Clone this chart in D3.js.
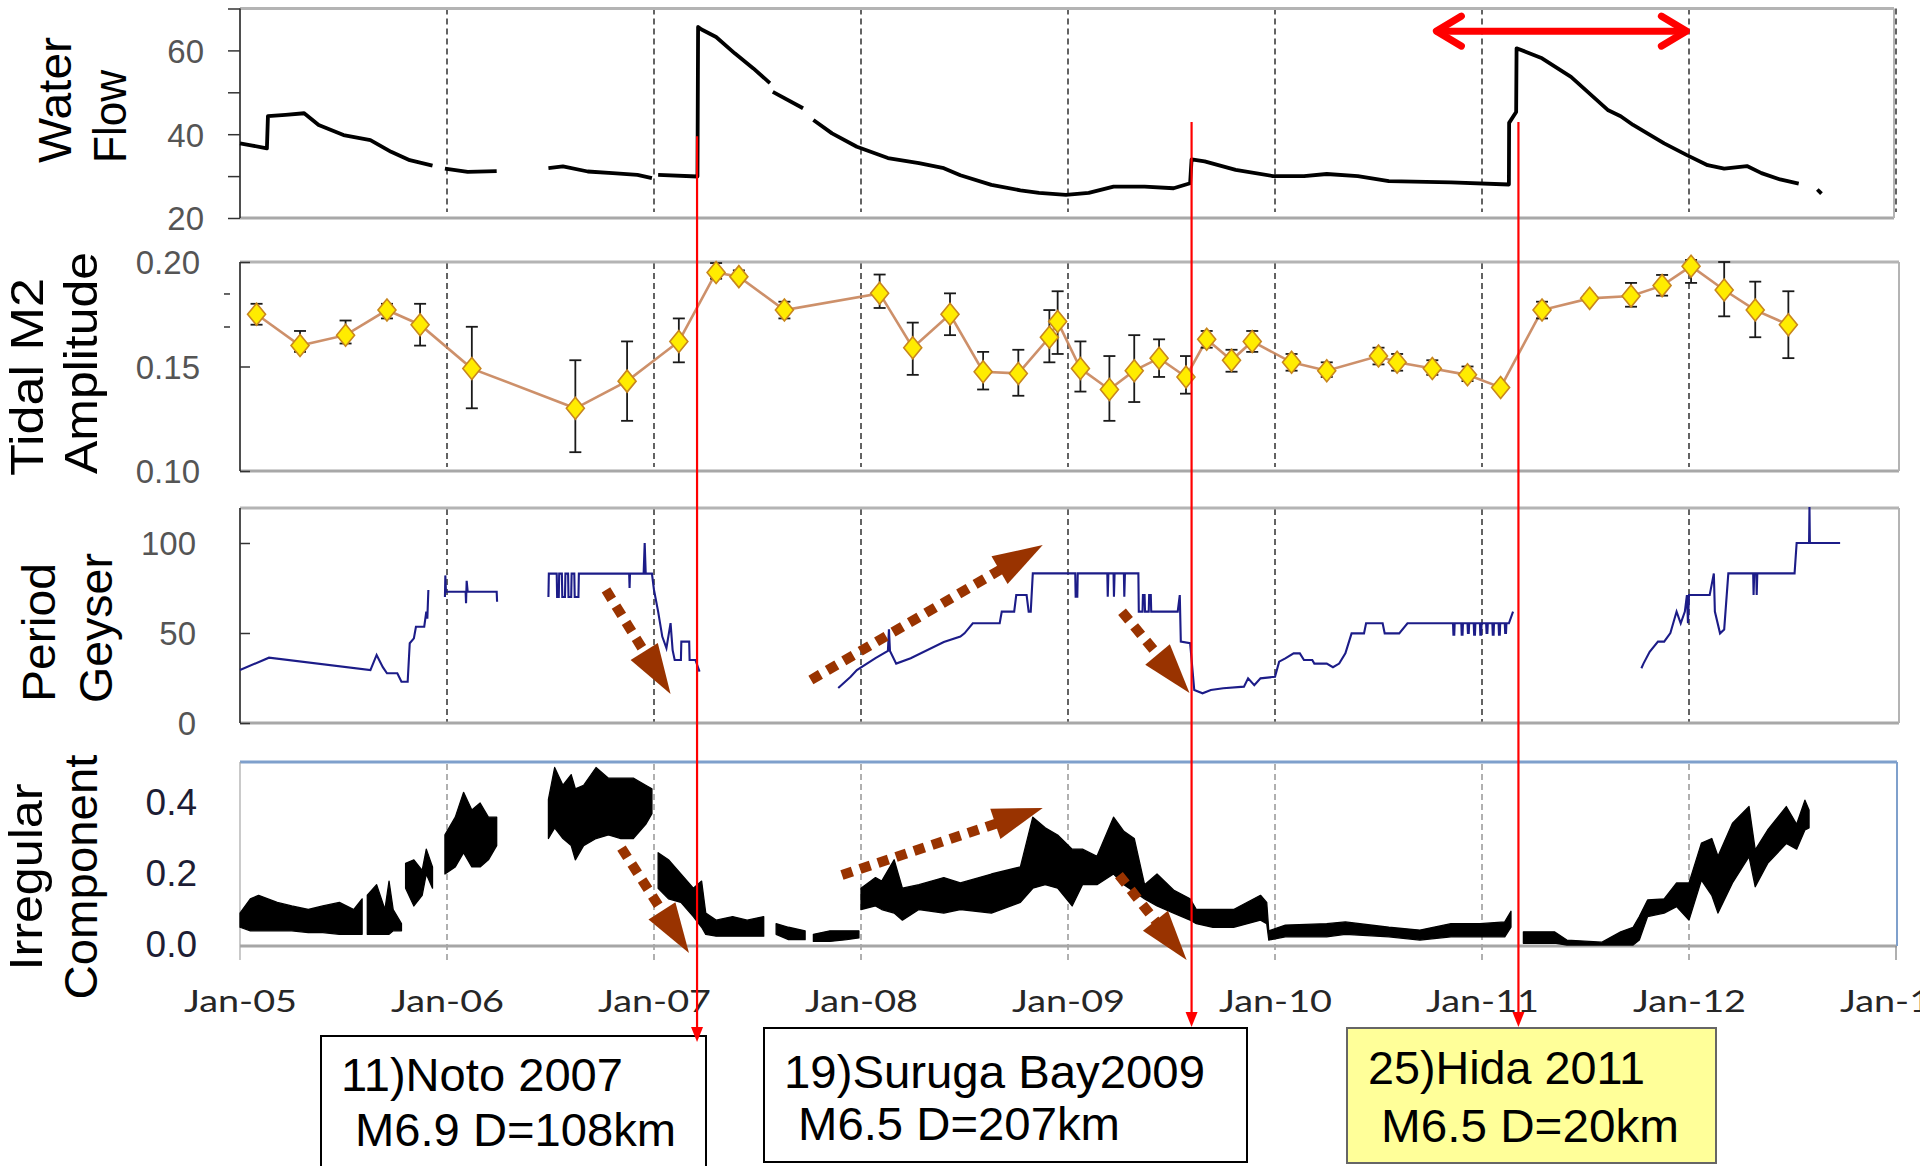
<!DOCTYPE html>
<html><head><meta charset="utf-8">
<script src="https://cdn.jsdelivr.net/npm/d3@7"></script>
<style>body{margin:0;background:#fff;overflow:hidden}svg{display:block}</style>
</head><body>
<svg id="c" width="1920" height="1166"></svg>
<script>
// ---------------- DATA ----------------
const years = [2005, 2006, 2007, 2008, 2009, 2010, 2011, 2012, 2013];
const yearLabels = ["Jan-05", "Jan-06", "Jan-07", "Jan-08", "Jan-09", "Jan-10", "Jan-11", "Jan-12", "Jan-13"];

// Water flow segments [decimal year, flow]
const flowA = [[2005.00,37.8],[2005.06,37.3],[2005.13,36.6],[2005.135,44.3],[2005.22,44.6],[2005.31,45.0],[2005.38,42.2],[2005.50,39.8],[2005.63,38.6],[2005.73,35.8],[2005.82,33.8],[2005.93,32.5]];
const flowB = [[2005.99,31.8],[2006.10,31.0],[2006.24,31.2]];
const flowC = [[2006.49,31.9],[2006.56,32.3],[2006.68,31.1],[2006.80,30.7],[2006.92,30.3],[2006.99,29.5]];
const flowD = [[2007.02,30.3],[2007.21,29.9],[2007.213,65.6],[2007.23,65.0],[2007.30,63.2],[2007.39,59.3],[2007.48,55.7],[2007.56,52.2]];
const flowE = [[2007.574,50.1],[2007.72,46.2]];
const flowF = [[2007.77,43.4],[2007.86,40.2],[2007.98,37.0],[2008.13,34.3],[2008.28,33.1],[2008.40,31.9],[2008.48,30.2],[2008.63,27.9],[2008.77,26.6],[2008.86,26.0],[2008.99,25.5],[2009.10,26.0],[2009.22,27.5],[2009.37,27.5],[2009.51,27.1],[2009.59,28.3],[2009.597,34.0],[2009.66,33.5],[2009.81,31.5],[2009.99,30.0],[2010.14,30.0],[2010.25,30.5],[2010.40,30.0],[2010.55,28.8],[2010.85,28.5],[2011.13,28.0],[2011.131,42.7],[2011.165,45.3],[2011.167,60.5],[2011.21,59.7],[2011.29,58.1],[2011.43,53.7],[2011.61,45.7],[2011.67,44.3],[2011.73,42.2],[2011.88,37.8],[2011.99,35.0],[2012.09,32.6],[2012.17,31.8],[2012.28,32.4],[2012.35,30.7],[2012.44,29.2],[2012.53,28.2]];
const flowG = [[2012.62,26.8],[2012.64,25.8]];

// Tidal M2 amplitude
const tideDates = [2005.08,2005.29,2005.51,2005.71,2005.87,2006.12,2006.62,2006.87,2007.12,2007.30,2007.41,2007.63,2008.09,2008.25,2008.43,2008.59,2008.76,2008.91,2008.95,2009.06,2009.20,2009.32,2009.44,2009.57,2009.67,2009.79,2009.89,2010.08,2010.25,2010.50,2010.59,2010.76,2010.93,2011.09,2011.29,2011.52,2011.72,2011.87,2012.01,2012.17,2012.32,2012.48];
const tideValues = [.175,.160,.165,.177,.170,.149,.130,.143,.162,.195,.193,.177,.185,.159,.175,.1475,.1467,.164,.1715,.149,.139,.148,.154,.145,.163,.153,.162,.152,.148,.155,.152,.149,.146,.140,.177,.1826,.1837,.1887,.198,.1866,.177,.170];
const tideLow = [.170,.157,.161,.173,.160,.130,.109,.124,.152,.192,.191,.173,.178,.146,.165,.139,.136,.152,.156,.138,.124,.133,.145,.137,.159,.1475,.157,.148,.145,.151,.148,.146,.143,.140,.173,.181,.1786,.1839,.190,.174,.164,.154];
const tideHigh = [.180,.167,.172,.180,.180,.169,.153,.162,.173,.1995,.196,.181,.194,.171,.185,.157,.158,.177,.186,.162,.155,.165,.163,.155,.167,.158,.167,.156,.152,.159,.156,.153,.150,.140,.181,.1845,.190,.1938,.201,.200,.1906,.186];
const tideStray = [0.1847, 0.1689];

// Period of geyser segments [decimal year, period]
const geyA = [[2005.00,29.4],[2005.14,36.3],[2005.63,29.4],[2005.66,37.8],[2005.69,31],[2005.71,27.6],[2005.76,27.6],[2005.78,22.9],[2005.81,22.9],[2005.82,44.3],[2005.84,47],[2005.85,53.5],[2005.89,53.5],[2005.90,61.9],[2005.905,58],[2005.91,73.9]];
const geyB = [[2005.99,70],[2005.992,82],[2005.995,72.9],[2006.09,72.9],[2006.092,66.5],[2006.095,79],[2006.10,72.9],[2006.24,72.9],[2006.242,67.4]];
const geyC = [[2006.49,70],[2006.492,83],[2006.53,83],[2006.532,70],[2006.54,70],[2006.542,83],[2006.555,83],[2006.557,70],[2006.57,70],[2006.572,83],[2006.585,83],[2006.587,70],[2006.60,70],[2006.602,83],[2006.615,83],[2006.617,70],[2006.635,70],[2006.637,83],[2006.88,83],[2006.882,75],[2006.884,83],[2006.95,83],[2006.955,100],[2006.96,83],[2006.99,83],[2007.00,73.9],[2007.02,61.9],[2007.04,48],[2007.06,41.6],[2007.08,55.5],[2007.09,40.5],[2007.10,35],[2007.13,35],[2007.132,45.2],[2007.17,45.2],[2007.172,35],[2007.20,35],[2007.22,28.5]];
const geyD = [[2007.89,19.4],[2007.95,25.7],[2007.98,29.4],[2008.07,36],[2008.13,40],[2008.135,52],[2008.14,40],[2008.17,33],[2008.24,36],[2008.40,45],[2008.48,48],[2008.50,49.8],[2008.54,55.4],[2008.67,55.4],[2008.68,61.9],[2008.74,61.9],[2008.75,71.1],[2008.80,71.1],[2008.81,61.9],[2008.82,61.9],[2008.83,83.1],[2009.035,83.1],[2009.037,70.2],[2009.045,70.2],[2009.047,83.1],[2009.19,83.1],[2009.192,70.2],[2009.195,83.1],[2009.22,83.1],[2009.222,70.2],[2009.225,83.1],[2009.27,83.1],[2009.272,70.2],[2009.275,83.1],[2009.34,83.1],[2009.342,61.9],[2009.36,61.9],[2009.362,71.1],[2009.37,71.1],[2009.372,61.9],[2009.39,61.9],[2009.392,71.1],[2009.40,71.1],[2009.402,61.9],[2009.53,61.9],[2009.54,71.1],[2009.545,45.2],[2009.59,44.3],[2009.61,18.3],[2009.65,16.5],[2009.69,18.3],[2009.75,19.3],[2009.85,20.2],[2009.87,24.8],[2009.90,21],[2009.93,24.8],[2010.00,25.7],[2010.02,34.1],[2010.05,35.9],[2010.09,38.7],[2010.12,38.7],[2010.14,35],[2010.18,35],[2010.19,33],[2010.25,33],[2010.28,31],[2010.31,33],[2010.34,38.7],[2010.37,49.8],[2010.43,49.8],[2010.44,55.4],[2010.52,55.4],[2010.53,49.8],[2010.60,49.8],[2010.64,55.4],[2010.86,55.4],[2010.862,49],[2010.866,49],[2010.868,55.4],[2010.90,55.4],[2010.902,49],[2010.906,49],[2010.908,55.4],[2010.93,55.4],[2010.932,50],[2010.936,50],[2010.938,55.4],[2010.96,55.4],[2010.962,49],[2010.966,49],[2010.968,55.4],[2010.99,55.4],[2010.992,49],[2010.996,49],[2010.998,55.4],[2011.02,55.4],[2011.022,50],[2011.026,50],[2011.028,55.4],[2011.05,55.4],[2011.052,49],[2011.056,49],[2011.058,55.4],[2011.08,55.4],[2011.082,49],[2011.086,49],[2011.088,55.4],[2011.11,55.4],[2011.112,50],[2011.116,50],[2011.118,55.4],[2011.13,55.4],[2011.15,61.9]];
const geyE = [[2011.77,30.4],[2011.78,33],[2011.81,39.6],[2011.85,45.2],[2011.88,45.2],[2011.91,50],[2011.94,61.9],[2011.96,55.4],[2011.98,61.9],[2011.99,71.1],[2011.995,55.4],[2012.00,71.1],[2012.10,71.1],[2012.12,83.1],[2012.125,61.9],[2012.15,49.8],[2012.17,52],[2012.19,83.1],[2012.31,83.1],[2012.312,71.1],[2012.315,83.1],[2012.325,83.1],[2012.327,71.1],[2012.33,83.1],[2012.51,83.1],[2012.52,100],[2012.58,100],[2012.582,120],[2012.584,100],[2012.73,100]];

// Irregular component segments [decimal year, low, high]
const irrA = [[2005.00,.05,.09],[2005.05,.04,.13],[2005.09,.04,.14],[2005.18,.04,.12],[2005.25,.04,.11],[2005.33,.035,.10],[2005.40,.035,.11],[2005.48,.03,.12],[2005.55,.03,.10],[2005.59,.03,.13]];
const irrB = [[2005.615,.03,.14],[2005.66,.03,.17],[2005.70,.03,.10],[2005.72,.03,.18],[2005.74,.04,.10],[2005.78,.04,.06]];
const irrC = [[2005.80,.16,.23],[2005.84,.11,.24],[2005.88,.14,.21],[2005.90,.20,.27],[2005.93,.16,.22]];
const irrD = [[2005.99,.20,.31],[2006.04,.22,.36],[2006.08,.26,.43],[2006.12,.22,.38],[2006.16,.22,.40],[2006.20,.24,.36],[2006.24,.28,.36]];
const irrE = [[2006.49,.30,.41],[2006.52,.33,.50],[2006.56,.30,.45],[2006.60,.28,.48],[2006.62,.24,.44],[2006.66,.28,.45],[2006.72,.30,.50],[2006.78,.31,.47],[2006.84,.30,.47],[2006.90,.30,.47],[2006.96,.34,.45],[2006.99,.37,.44]];
const irrF = [[2007.02,.16,.26],[2007.07,.13,.24],[2007.13,.12,.20],[2007.19,.08,.16],[2007.23,.05,.18],[2007.25,.03,.09],[2007.30,.025,.07],[2007.38,.025,.08],[2007.45,.025,.07],[2007.53,.025,.08]];
const irrG = [[2007.59,.03,.06],[2007.65,.015,.05],[2007.73,.015,.04]];
const irrH = [[2007.77,.01,.03],[2007.85,.01,.04],[2007.93,.015,.04],[2007.99,.02,.04]];
const irrI = [[2008.00,.10,.16],[2008.07,.11,.19],[2008.10,.10,.18],[2008.16,.09,.24],[2008.20,.07,.16],[2008.28,.10,.17],[2008.40,.09,.19],[2008.48,.10,.175],[2008.63,.09,.20],[2008.77,.12,.22],[2008.83,.16,.36],[2008.89,.17,.33],[2008.95,.16,.31],[2009.02,.11,.27],[2009.07,.17,.27],[2009.14,.17,.25],[2009.22,.20,.36],[2009.27,.17,.32],[2009.32,.15,.30],[2009.37,.13,.17],[2009.43,.11,.20],[2009.51,.09,.155],[2009.59,.07,.13],[2009.62,.06,.10],[2009.70,.05,.10],[2009.80,.05,.10],[2009.93,.07,.14],[2009.96,.06,.12],[2009.97,.014,.04],[2010.05,.023,.056],[2010.25,.023,.06],[2010.34,.03,.065],[2010.55,.023,.05],[2010.70,.014,.042],[2010.85,.023,.06],[2010.99,.023,.06],[2011.11,.023,.065],[2011.14,.05,.095]];
const irrJ = [[2011.20,.005,.037],[2011.35,.005,.037],[2011.41,0,.014],[2011.58,0,.008],[2011.67,0,.037],[2011.73,0,.05],[2011.76,.014,.08],[2011.80,.08,.127],[2011.88,.09,.13],[2011.94,.108,.175],[2012.00,.07,.175],[2012.06,.183,.287],[2012.11,.14,.30],[2012.14,.09,.25],[2012.21,.175,.343],[2012.29,.249,.39],[2012.32,.164,.268],[2012.38,.23,.324],[2012.47,.286,.39],[2012.52,.27,.34],[2012.56,.324,.408],[2012.58,.33,.38]];

// Earthquakes
const quakeDates = [2007.208, 2009.597, 2011.176];
const quakeTopFlow = [39.5, 42.9, 42.9];
const quakeNames = ["11)Noto 2007", "19)Suruga Bay2009", "25)Hida 2011"];
const quakeInfo = ["M6.9 D=108km", "M6.5 D=207km", "M6.5 D=20km"];
const spanArrow = [2010.77, 2011.997, 64.6];

// Trend arrows [startYear, startVal, endYear, endVal]
const geyArrows = [[2006.768,73.9,2007.080,16.1],[2007.758,23.9,2008.878,98.9],[2009.261,61.8,2009.587,16.7]];
const irrArrows = [[2006.843,0.273,2007.169,-0.0225],[2007.908,0.197,2008.878,0.386],[2009.246,0.197,2009.573,-0.042]];

// ---------------- DRAW ----------------
const svg = d3.select("#c");
const x = d3.scaleLinear().domain([2005, 2013]).range([240, 1896]);
const y1 = d3.scaleLinear().domain([20, 70]).range([218, 8.5]);
const y2 = d3.scaleLinear().domain([0.10, 0.20]).range([471, 262]);
const y3 = d3.scaleLinear().domain([0, 120]).range([723, 507]);
const y4 = d3.scaleLinear().domain([0, 0.4]).range([945, 803]);

const FONT = "'Liberation Sans', Arial, sans-serif";

function frame(top, bottom, right, topCol, rightCol, botCol, leftCol, leftW, ext) {
  svg.append("line").attr("x1", 240).attr("x2", right).attr("y1", top).attr("y2", top).attr("stroke", topCol).attr("stroke-width", 3);
  svg.append("line").attr("x1", 240).attr("x2", right).attr("y1", bottom).attr("y2", bottom).attr("stroke", botCol).attr("stroke-width", 3);
  svg.append("line").attr("x1", right).attr("x2", right).attr("y1", top).attr("y2", bottom).attr("stroke", rightCol).attr("stroke-width", 2);
  svg.append("line").attr("x1", 240).attr("x2", 240).attr("y1", top).attr("y2", bottom + ext).attr("stroke", leftCol).attr("stroke-width", leftW);
}
function grid(top, bottom, col, list) {
  svg.append("g").selectAll("line").data(list).join("line")
    .attr("x1", d => x(d)).attr("x2", d => x(d)).attr("y1", top).attr("y2", bottom)
    .attr("stroke", col).attr("stroke-width", 1.4).attr("stroke-dasharray", "6,4");
}
const gridYears = years.slice(1, 8);
grid(y1.range()[1], 212, "#222", years.slice(1));
grid(263, 467, "#222", gridYears);
grid(509, 723, "#222", gridYears);
grid(764, 960, "#8f8f8f", gridYears);

frame(8.5, 218, 1894, "#b4b4b4", "#b4b4b4", "#a8a8a8", "#222", 1.6, 0);
frame(262, 471, 1899, "#b4b4b4", "#b4b4b4", "#a8a8a8", "#222", 1.6, 0);
frame(508, 723, 1899, "#b4b4b4", "#b4b4b4", "#a8a8a8", "#222", 1.6, 0);
frame(762, 946, 1897, "#7fa0cc", "#7fa0cc", "#a6a6a6", "#a6a6a6", 1.2, 14);
svg.append("line").attr("x1", x(2013)).attr("x2", x(2013)).attr("y1", 946).attr("y2", 960).attr("stroke", "#8f8f8f").attr("stroke-width", 1.4);

function yAxis(scale, vals, labels, inner, pad, fs, col) {
  const ax = d3.axisLeft(scale).tickValues(vals).tickSizeInner(inner).tickSizeOuter(0).tickPadding(pad)
    .tickFormat((d, i) => labels[i]);
  const g = svg.append("g").attr("transform", "translate(240,0)").call(ax);
  g.select(".domain").remove();
  g.selectAll("line").attr("stroke", "#333").attr("stroke-width", 1.5);
  g.selectAll("text").attr("font-family", FONT).attr("font-size", fs).attr("fill", col).attr("dy", "0.36em");
  return g;
}
yAxis(y1, [20, 30, 40, 50, 60, 70], ["20", "", "40", "", "60", ""], 12, 24, 33, "#555");
yAxis(y2, [0.10, 0.15, 0.20], ["0.10", "0.15", "0.20"], -10, 40, 33, "#555");
yAxis(y3, [0, 50, 100], ["0", "50", "100"], -10, 44, 33, "#555");
const g4 = yAxis(y4, [0, 0.2, 0.4], ["0.0", "0.2", "0.4"], 0, 43, 37, "#1d1d35");
g4.selectAll("text").attr("dy", "0.3em");
svg.append("g").selectAll("line").data(tideStray).join("line")
  .attr("x1", 224).attr("x2", 230).attr("y1", d => y2(d)).attr("y2", d => y2(d)).attr("stroke", "#333").attr("stroke-width", 1.5);

const xg = svg.append("g").attr("transform", "translate(0,990)")
  .call(d3.axisBottom(x).tickValues(years).tickSize(0).tickFormat((d, i) => yearLabels[i]));
xg.select(".domain").remove();
xg.selectAll("text").attr("font-family", "Lato, 'Open Sans', sans-serif").attr("font-size", 31).attr("fill", "#262626")
  .attr("y", 22).attr("dy", 0).attr("textLength", 113).attr("lengthAdjust", "spacingAndGlyphs");

function vtitle(txt, bx, y0, len, anchor) {
  svg.append("text").attr("transform", `translate(${bx},${y0}) rotate(-90)`)
    .attr("font-family", FONT).attr("font-size", 47).attr("fill", "#000")
    .attr("text-anchor", anchor).attr("textLength", len).attr("lengthAdjust", "spacingAndGlyphs").text(txt);
}
vtitle("Water", 71, 163, 126, "start");
vtitle("Flow", 126, 163, 93, "start");
vtitle("Tidal M2", 43, 476, 198, "start");
vtitle("Amplitude", 97, 474, 222, "start");
vtitle("Period", 55, 702, 139, "start");
vtitle("Geyser", 112, 703, 150, "start");
vtitle("Irregular", 42, 877, 187, "middle");
vtitle("Component", 97, 877, 245, "middle");

// Panel 1: water flow
const flowLine = d3.line().x(d => x(d[0])).y(d => y1(d[1]));
svg.append("g").selectAll("path").data([flowA, flowB, flowC, flowD, flowE, flowF, flowG]).join("path")
  .attr("d", flowLine).attr("fill", "none").attr("stroke", "#000").attr("stroke-width", 3.8).attr("stroke-linejoin", "round");

// Panel 2: tidal
const tide = tideDates.map((d, i) => ({d, v: tideValues[i], lo: tideLow[i], hi: tideHigh[i]}));
svg.append("path").datum(tide).attr("d", d3.line().x(d => x(d.d)).y(d => y2(d.v)))
  .attr("fill", "none").attr("stroke", "#c8845a").attr("stroke-width", 2.6).attr("stroke-opacity", 0.9);
const eb = svg.append("g").attr("stroke", "#1a1a1a").attr("stroke-width", 1.8);
tide.forEach(t => {
  if (t.hi - t.lo < 0.001) return;
  eb.append("line").attr("x1", x(t.d)).attr("x2", x(t.d)).attr("y1", y2(t.hi)).attr("y2", y2(t.lo));
  eb.append("line").attr("x1", x(t.d) - 6).attr("x2", x(t.d) + 6).attr("y1", y2(t.hi)).attr("y2", y2(t.hi));
  eb.append("line").attr("x1", x(t.d) - 6).attr("x2", x(t.d) + 6).attr("y1", y2(t.lo)).attr("y2", y2(t.lo));
});
svg.append("g").selectAll("path").data(tide).join("path")
  .attr("d", "M0,-11L9,0L0,11L-9,0Z")
  .attr("transform", d => `translate(${x(d.d)},${y2(d.v)})`)
  .attr("fill", "#ffec00").attr("stroke", "#c8861e").attr("stroke-width", 1.6);

// Panel 3: geyser
const gLine = d3.line().x(d => x(d[0])).y(d => y3(d[1]));
svg.append("g").selectAll("path").data([geyA, geyB, geyC, geyD, geyE]).join("path")
  .attr("d", gLine).attr("fill", "none").attr("stroke", "#1c1c88").attr("stroke-width", 2.1);

// Panel 4: irregular component
const irrArea = d3.area().x(d => x(d[0])).y0(d => y4(d[1])).y1(d => y4(d[2]));
svg.append("g").selectAll("path").data([irrA, irrB, irrC, irrD, irrE, irrF, irrG, irrH, irrI, irrJ]).join("path")
  .attr("d", irrArea).attr("fill", "#000").attr("stroke", "#000").attr("stroke-width", 1.3).attr("stroke-linejoin", "round");

function trendArrow(x1, y1p, x2, y2p) {
  const dx = x2 - x1, dy = y2p - y1p, len = Math.hypot(dx, dy);
  const ux = dx / len, uy = dy / len, L = 50, W = 16;
  const bx = x2 - ux * L, by = y2p - uy * L;
  svg.append("line").attr("x1", x1).attr("y1", y1p).attr("x2", bx + ux * 4).attr("y2", by + uy * 4)
    .attr("stroke", "#993300").attr("stroke-width", 10).attr("stroke-dasharray", "11,8");
  svg.append("path").attr("d", `M${x2},${y2p}L${bx - uy * W},${by + ux * W}L${bx + uy * W},${by - ux * W}Z`)
    .attr("fill", "#993300");
}
geyArrows.forEach(a => trendArrow(x(a[0]), y3(a[1]), x(a[2]), y3(a[3])));
irrArrows.forEach(a => trendArrow(x(a[0]), y4(a[1]), x(a[2]), y4(a[3])));

const boxes = [
  {x: 321, y: 1036, w: 385, h: 200, fill: "#fff", stroke: "#000", t1x: 341, t1y: 1091, l1: 282, t2x: 355, t2y: 1146, l2: 321},
  {x: 764, y: 1028, w: 483, h: 134, fill: "#fff", stroke: "#000", t1x: 784, t1y: 1088, l1: 421, t2x: 798, t2y: 1140, l2: 322},
  {x: 1347, y: 1028, w: 369, h: 135, fill: "#ffff99", stroke: "#666", t1x: 1368, t1y: 1084, l1: 277, t2x: 1381, t2y: 1142, l2: 298}
];
boxes.forEach((b, i) => {
  svg.append("rect").attr("x", b.x).attr("y", b.y).attr("width", b.w).attr("height", b.h)
    .attr("fill", b.fill).attr("stroke", b.stroke).attr("stroke-width", 2);
  svg.append("text").attr("x", b.t1x).attr("y", b.t1y).attr("font-family", FONT).attr("font-size", 47)
    .attr("textLength", b.l1).attr("lengthAdjust", "spacingAndGlyphs").text(quakeNames[i]);
  svg.append("text").attr("x", b.t2x).attr("y", b.t2y).attr("font-family", FONT).attr("font-size", 47)
    .attr("textLength", b.l2).attr("lengthAdjust", "spacingAndGlyphs").text(quakeInfo[i]);
});

const quakeBottom = [1042, 1027, 1027];
quakeDates.forEach((d, i) => {
  const xx = x(d);
  svg.append("line").attr("x1", xx).attr("x2", xx).attr("y1", y1(quakeTopFlow[i])).attr("y2", quakeBottom[i] - 10)
    .attr("stroke", "#ff0000").attr("stroke-width", 2.2);
  svg.append("path").attr("d", `M${xx},${quakeBottom[i]}L${xx - 6},${quakeBottom[i] - 15}L${xx + 6},${quakeBottom[i] - 15}Z`).attr("fill", "#ff0000");
});

{
  const xa = x(spanArrow[0]), xb = x(spanArrow[1]), yy = y1(spanArrow[2]);
  const r = svg.append("g").attr("stroke", "#ff0000").attr("stroke-width", 7).attr("stroke-linecap", "round").attr("fill", "none");
  r.append("line").attr("x1", xa + 3).attr("x2", xb - 3).attr("y1", yy).attr("y2", yy);
  r.append("path").attr("d", `M${xa + 27},${yy - 15}L${xa + 2},${yy}L${xa + 27},${yy + 15}`).attr("stroke-linejoin", "round");
  r.append("path").attr("d", `M${xb - 27},${yy - 15}L${xb - 2},${yy}L${xb - 27},${yy + 15}`).attr("stroke-linejoin", "round");
}
</script>
</body></html>
